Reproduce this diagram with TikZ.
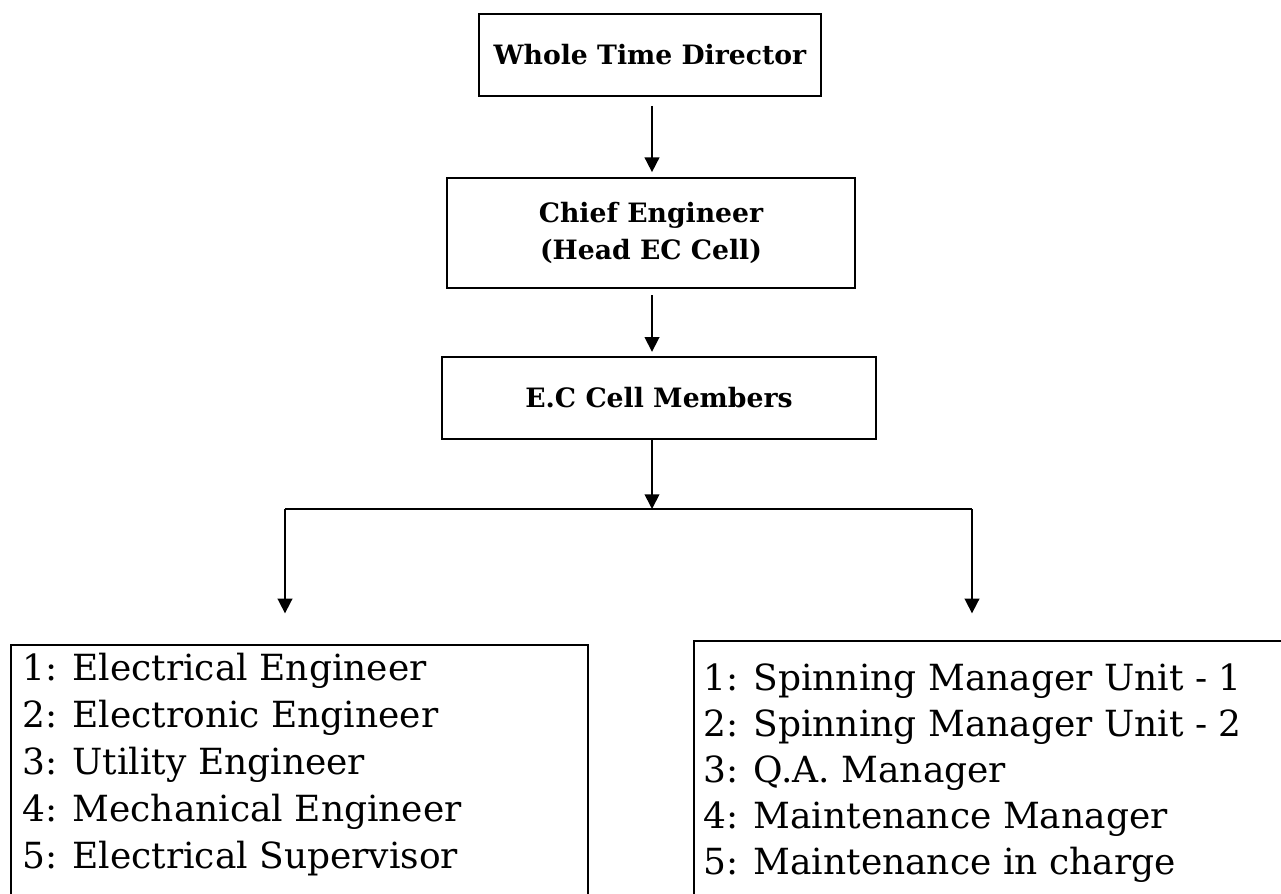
\documentclass[tikz,border=0pt]{standalone}
\usepackage{fontspec}
\setmainfont{DejaVu Serif}
\usetikzlibrary{arrows.meta,positioning,calc}

\begin{document}
\begin{tikzpicture}[x=0.75pt,y=-0.75pt,
    headbox/.style={draw, line width=1.3pt, align=center, inner sep=0pt,
        font=\fontsize{20}{28}\bfseries\selectfont},
    listbox/.style={draw, line width=1.3pt, anchor=north west, inner sep=0pt},
    listtext/.style={anchor=base west, inner sep=0pt, font=\fontsize{27}{32}\selectfont},
    link/.style={line width=1.3pt, -{Triangle[width=11pt,length=11pt]}}]
    \useasboundingbox (0,0) rectangle (1281,893);

    % Head boxes
    \node[headbox, minimum width=257pt, minimum height=61pt] (wtd) at (650,55) {Whole Time Director};
    \node[headbox, minimum width=306pt, minimum height=82pt] (ceng) at (651,233) {Chief Engineer\\(Head EC Cell)};
    \node[headbox, minimum width=325pt, minimum height=62pt] (ecm) at (659,398) {E.C Cell Members};

    % Arrows between head boxes
    \draw[link, shorten <=7pt, shorten >=4pt] (wtd.south -| 652,0) -- (ceng.north -| 652,0);
    \draw[link, shorten <=5pt, shorten >=3pt] (ceng.south -| 652,0) -- (ecm.north -| 652,0);
    \coordinate (split) at (652,509);
    \draw[link] (ecm.south -| split) -- (split);

    % Branch line
    \coordinate (bl) at (285,509);
    \coordinate (br) at (972,509);
    \draw[line width=1.3pt] (bl) -- (br);

    % Member lists
    \node[listbox, minimum width=433pt, minimum height=200pt] (elist) at (10,644) {};
    \node[listbox, minimum width=446pt, minimum height=200pt] (mlist) at (693,640) {};
    \draw[link, shorten >=23pt] (bl) -- (bl |- elist.north);
    \draw[link, shorten >=20pt] (br) -- (br |- mlist.north);

    \foreach \i/\t in {1/Electrical Engineer,2/Electronic Engineer,3/Utility Engineer,
        4/Mechanical Engineer,5/Electrical Supervisor} {
        \node[listtext] (e\i) at (22,680+47*\i-47) {\i: \t};
    }
    \foreach \i/\t in {1/Spinning Manager Unit - 1,2/Spinning Manager Unit - 2,3/Q.A. Manager,
        4/Maintenance Manager,5/Maintenance in charge} {
        \node[listtext] (m\i) at (703,690+46*\i-46) {\i: \t};
    }
\end{tikzpicture}
\end{document}
